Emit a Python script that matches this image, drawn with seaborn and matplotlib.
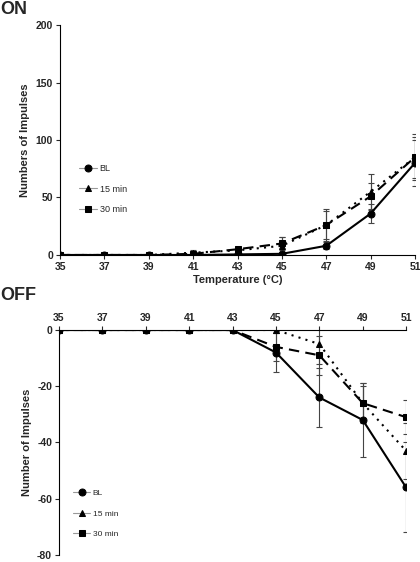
import numpy as np
import pandas as pd
import matplotlib
matplotlib.use('Agg')
import matplotlib.pyplot as plt
import seaborn as sns

sns.set_style('white')
plt.rcParams['font.family'] = ['Liberation Sans', 'DejaVu Sans']

temps = [35, 37, 39, 41, 43, 45, 47, 49, 51]
labels = ['BL', '15 min', '30 min']

# ON responses (mean, error)
on_bl = [0, 0, 0, 0, 0.5, 1, 8, 36, 80]
on_15 = [0, 0, 0, 2, 4, 8, 26, 55, 85]
on_30 = [0, 0, 0, 1, 5, 10, 26, 51, 85]
on_bl_err = [0, 0, 0, 0, 0.5, 1, 3, 8, 20]
on_15_err = [0, 0, 0, 2, 2, 8, 14, 15, 20]
on_30_err = [0, 0, 0, 1, 2, 6, 12, 12, 18]

# OFF responses (mean, error)
off_bl = [0, 0, 0, 0, 0, -8, -24, -32, -56]
off_15 = [0, 0, 0, 0, 0, 0, -5, -26, -43]
off_30 = [0, 0, 0, 0, 0, -6, -9, -26, -31]
off_bl_err = [0, 0, 0, 0, 0, 7, 10.5, 13, 16]
off_15_err = [0, 0, 0, 0, 0, 0, 7, 6, 10]
off_30_err = [0, 0, 0, 0, 0, 5, 7, 7, 6]

styles = [('o', '-'), ('^', (0, (1, 2.5))), ('s', (0, (5, 3)))]

fig = plt.figure(figsize=(4.2, 5.62), dpi=100)
ax1 = fig.add_axes([0.143, 0.5463, 0.845, 0.4092])
ax2 = fig.add_axes([0.1405, 0.0125, 0.8265, 0.4003])


def draw(ax, means, errs):
    for lab, y, e, (mk, ls) in zip(labels, means, errs, styles):
        ax.errorbar(temps, y, yerr=e, fmt='none', ecolor='#444444',
                    elinewidth=0.8, capsize=2.5, capthick=0.8, zorder=1)
        sns.lineplot(x=temps, y=y, ax=ax, color='black', linestyle=ls,
                     linewidth=1.5, marker=mk, markersize=5,
                     markeredgecolor='black', markerfacecolor='black',
                     label=lab, zorder=3)
    ax.set_xlim(35, 51)
    ax.set_xticks(temps)
    ax.set_xticklabels([str(t) for t in temps], fontweight='bold', fontsize=7.5)
    ax.tick_params(length=3, width=0.8, pad=2)
    for s in ax.spines.values():
        s.set_linewidth(0.8)
        s.set_color('black')


def style_legend(leg):
    for line in leg.get_lines():
        line.set_color('#999999')
        line.set_linestyle('-')
        line.set_linewidth(0.8)
        line.set_markerfacecolor('black')
        line.set_markeredgecolor('black')


draw(ax1, [on_bl, on_15, on_30], [on_bl_err, on_15_err, on_30_err])
ax1.set_ylim(0, 200)
ax1.set_yticks([0, 50, 100, 150, 200])
ax1.set_yticklabels(['0', '50', '100', '150', '200'], fontweight='bold', fontsize=7.5)
ax1.spines['top'].set_visible(False)
ax1.spines['right'].set_visible(False)
ax1.tick_params(axis='both', direction='out', bottom=True, left=True)
ax1.set_xlabel('Temperature (°C)', fontweight='bold', fontsize=8, labelpad=2)
ax1.set_ylabel('Numbers of Impulses', fontweight='bold', fontsize=8, labelpad=4)
leg1 = ax1.legend(loc='upper left', bbox_to_anchor=(0.03, 0.43), frameon=False,
                  fontsize=6.5, handlelength=2.0, labelspacing=1.25, handletextpad=0.3)
style_legend(leg1)

draw(ax2, [off_bl, off_15, off_30], [off_bl_err, off_15_err, off_30_err])
ax2.set_ylim(-80, 0)
ax2.set_yticks([0, -20, -40, -60, -80])
ax2.set_yticklabels(['0', '-20', '-40', '-60', '-80'], fontweight='bold', fontsize=7.5)
ax2.spines['bottom'].set_visible(False)
ax2.spines['right'].set_visible(False)
ax2.xaxis.tick_top()
ax2.tick_params(axis='both', direction='out', top=True, left=True, bottom=False)
ax2.set_ylabel('Number of Impulses', fontweight='bold', fontsize=8, labelpad=4)
ax2.set_xlabel('')
leg2 = ax2.legend(loc='upper left', bbox_to_anchor=(0.02, 0.325), frameon=False,
                  fontsize=6, handlelength=2.0, labelspacing=1.5, handletextpad=0.3)
style_legend(leg2)

fig.text(0.0, 0.983, 'ON', fontsize=13, fontweight='bold', va='center', ha='left')
fig.text(0.0, 0.474, 'OFF', fontsize=13, fontweight='bold', va='center', ha='left')

fig.savefig('out.png', dpi=100)
